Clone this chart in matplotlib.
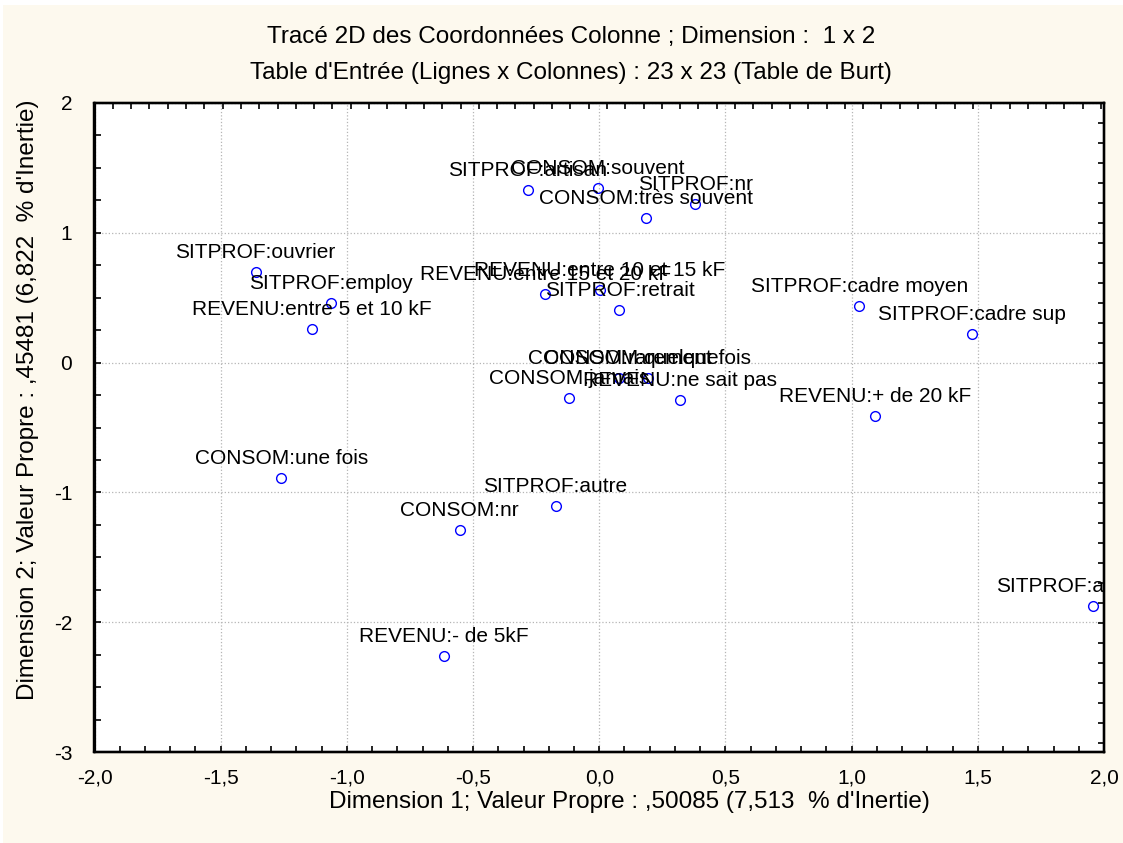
import matplotlib.pyplot as plt
from matplotlib.ticker import MultipleLocator, FixedLocator
from matplotlib.patches import Rectangle

plt.rcParams['font.family'] = ['Liberation Sans', 'DejaVu Sans']

# modalites (table de Burt)
labels = ['SITPROF:artisan', 'CONSOM:souvent', 'SITPROF:nr', 'CONSOM:très souvent',
          'REVENU:entre 15 et 20 kF', 'REVENU:entre 10 et 15 kF', 'SITPROF:retrait',
          'SITPROF:ouvrier', 'SITPROF:employ', 'REVENU:entre 5 et 10 kF',
          'SITPROF:cadre moyen', 'SITPROF:cadre sup', 'REVENU:+ de 20 kF',
          'CONSOM:rarement', 'CONSOM:quelquefois', 'CONSOM:jamais', 'REVENU:ne sait pas',
          'CONSOM:une fois', 'SITPROF:autre', 'CONSOM:nr', 'REVENU:- de 5kF',
          'SITPROF:agriculteur']
dim1 = [-0.283, -0.005, 0.380, 0.184,
        -0.213, 0.001, 0.080,
        -1.362, -1.062, -1.140,
        1.031, 1.477, 1.093,
        0.080, 0.193, -0.118, 0.318,
        -1.260, -0.173, -0.553, -0.617,
        1.958]
dim2 = [1.330, 1.347, 1.222, 1.112,
        0.528, 0.559, 0.405,
        0.700, 0.457, 0.257,
        0.438, 0.220, -0.411,
        -0.121, -0.121, -0.275, -0.288,
        -0.887, -1.105, -1.290, -2.260,
        -1.873]

xticks = [-2.0, -1.5, -1.0, -0.5, 0.0, 0.5, 1.0, 1.5, 2.0]
yticks = [-3, -2, -1, 0, 1, 2]

FS = 15      # etiquettes des points et graduations
FS_T = 17.5  # titres et noms des axes
W, H = 1123, 843
fig = plt.figure(figsize=(W / 100, H / 100), dpi=100, facecolor='white')
fig.add_artist(Rectangle((3 / W, 0), 1, 1 - 5 / H, transform=fig.transFigure,
                         facecolor='#FDF9EE', edgecolor='none', zorder=-10))

ax = fig.add_axes([94.5 / W, 1 - 752 / H, (1104 - 94.5) / W, (752 - 103) / H])
ax.set_facecolor('white')
ax.set_xlim(-2, 2)
ax.set_ylim(-3, 2)

ax.plot(dim1, dim2, 'o', mfc='none', mec='#0000FF', mew=1.0, ms=7, clip_on=False, zorder=3)
for lab, x, y in zip(labels, dim1, dim2):
    ax.annotate(lab, (x, y), xytext=(0, 10), textcoords='offset points',
                ha='center', va='baseline', fontsize=FS, color='black', clip_on=True)

ax.xaxis.set_major_locator(FixedLocator(xticks))
ax.yaxis.set_major_locator(FixedLocator(yticks))
ax.xaxis.set_minor_locator(MultipleLocator(0.1))
ax.yaxis.set_minor_locator(MultipleLocator(0.25))
ax.set_xticklabels([f'{v:.1f}'.replace('.', ',') for v in xticks])
ax.set_yticklabels([str(v) for v in yticks])
ax.tick_params(which='both', direction='in', length=4, width=1.2, labelsize=FS,
               top=False, right=False)
ax.tick_params(axis='x', pad=12)
ax.tick_params(axis='y', pad=16)
ax.grid(True, which='major', linestyle=':', color='#B5B5B5', linewidth=0.9)
for s in ax.spines.values():
    s.set_linewidth(1.6)

# ticks haut / droite (echelle propre au logiciel)
axt = ax.twiny()
axt.set_xlim(0, (1104 - 94.5) / 18.3)
axt.xaxis.set_major_locator(MultipleLocator(1))
axt.tick_params(direction='in', length=4, width=1.2, labeltop=False)
axr = ax.twinx()
axr.set_ylim((752 - 103) / 20.0, 0)
axr.yaxis.set_major_locator(MultipleLocator(1))
axr.tick_params(direction='in', length=4, width=1.2, labelright=False)
for a in (axt, axr):
    for s in a.spines.values():
        s.set_linewidth(1.6)

fig.text(571 / W, 1 - 37 / H, 'Tracé 2D des Coordonnées Colonne ; Dimension :  1 x 2',
         ha='center', va='center', fontsize=FS_T)
fig.text(571 / W, 1 - 73 / H, "Table d'Entrée (Lignes x Colonnes) : 23 x 23 (Table de Burt)",
         ha='center', va='center', fontsize=FS_T)
fig.text(629 / W, 1 - 802 / H, "Dimension 1; Valeur Propre : ,50085 (7,513  % d'Inertie)",
         ha='center', va='center', fontsize=FS_T)
fig.text(28 / W, 1 - 400 / H, "Dimension 2; Valeur Propre : ,45481 (6,822  % d'Inertie)",
         ha='center', va='center', rotation=90, fontsize=FS_T)

fig.savefig('out.png', dpi=100, facecolor=fig.get_facecolor())
